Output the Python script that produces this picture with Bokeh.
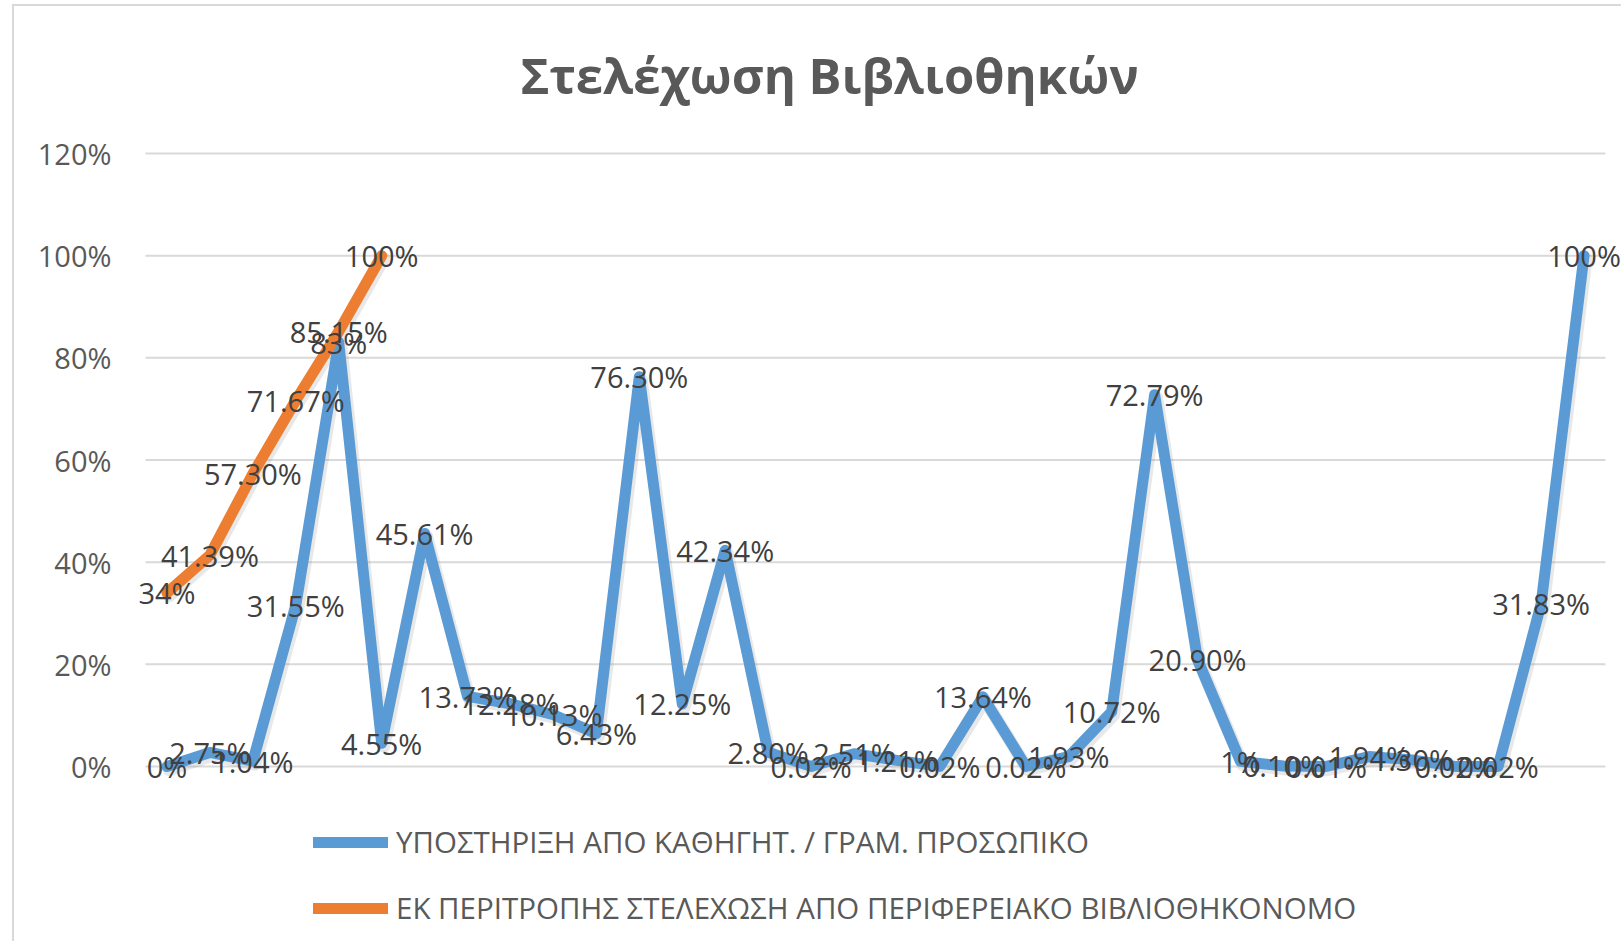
from bokeh.plotting import figure
from bokeh.models import (Range1d, ColumnDataSource, Legend, LegendItem, FixedTicker,
                          CustomJSTickFormatter, LabelSet, Label)
from bokeh.core.properties import value
from bokeh.embed import file_html
from bokeh.resources import INLINE

# ---- data ----
support_values = [0, 2.75, 1.04, 31.55, 83, 4.55, 45.61, 13.73, 12.28, 10.13, 6.43,
                  76.30, 12.25, 42.34, 2.80, 0.02, 2.51, 1.21, 0.02, 13.64, 0.02,
                  1.93, 10.72, 72.79, 20.90, 1, 0.10, 0.01, 1.94, 1.30, 0.02, 0.02,
                  31.83, 100]
rotation_values = [34, 41.39, 57.30, 71.67, 85.15, 100]
categories = list(range(1, len(support_values) + 1))
y_ticks = [0, 20, 40, 60, 80, 100, 120]

series_names = ["ΥΠΟΣΤΗΡΙΞΗ ΑΠΟ ΚΑΘΗΓΗΤ. / ΓΡΑΜ. ΠΡΟΣΩΠΙΚΟ",
                "ΕΚ ΠΕΡΙΤΡΟΠΗΣ ΣΤΕΛΕΧΩΣΗ ΑΠΟ ΠΕΡΙΦΕΡΕΙΑΚΟ ΒΙΒΛΙΟΘΗΚΟΝΟΜΟ"]
title_text = "Στελέχωση Βιβλιοθηκών"


def fmt(v):
    return f"{v:.0f}%" if float(v) == round(v) else f"{v:.2f}%"


FONT = "Open Sans"
TEXT_COLOR = "#404040"
BLUE, ORANGE = "#5B9BD5", "#ED7D31"

# the chart-area border sits at page x=12, y=4 (2px wide); canvas starts right after it
OX, OY = 14, 6
W, H = 1623 - OX, 951 - OY - 8
FRAME_L, FRAME_T = 125 - OX, 0

# category band: x 145..1605 px ; value band: 0% at 766 px, 120% at 153 px (page coords)
BAND_L, BAND_R, ZERO_Y, TOP_Y = 145 - OX, 1605 - OX, 766 - OY, 153 - OY
PX_PER_CAT = (BAND_R - BAND_L) / len(categories)
PX_PER_UNIT = (ZERO_Y - TOP_Y) / 120.0
x_start = categories[0] - 0.5 - (BAND_L - FRAME_L) / PX_PER_CAT
x_end = categories[-1] + 0.5 + (W - BAND_R) / PX_PER_CAT
y_start = -(H - ZERO_Y) / PX_PER_UNIT
y_end = 120 + (TOP_Y - FRAME_T) / PX_PER_UNIT

p = figure(width=W, height=H, output_backend="svg", toolbar_location=None,
           x_range=Range1d(x_start, x_end), y_range=Range1d(y_start, y_end),
           min_border_left=FRAME_L, min_border_right=0, min_border_top=FRAME_T,
           min_border_bottom=0)
p.styles = {"margin-left": "12px", "margin-top": "4px",
            "border-left": "2px solid #d9d9d9", "border-top": "2px solid #d9d9d9"}

p.outline_line_color = None
p.xaxis.visible = False
p.xgrid.grid_line_color = None
p.ygrid.grid_line_color = None

# chart title (centred at page x≈829, y≈74)
p.add_layout(Label(x=x_start + (829 - OX - FRAME_L) / PX_PER_CAT,
                   y=y_start + (H - (74 - OY)) / PX_PER_UNIT,
                   text=title_text, text_font=FONT, text_font_style="bold",
                   text_font_size="49px", text_color="#595959",
                   text_align="center", text_baseline="middle"))

# horizontal gridlines across the category band
p.segment(x0=[categories[0] - 0.5] * len(y_ticks), x1=[categories[-1] + 0.5] * len(y_ticks),
          y0=y_ticks, y1=y_ticks, line_color="#d9d9d9", line_width=2)

p.yaxis.ticker = FixedTicker(ticks=y_ticks)
p.yaxis.formatter = CustomJSTickFormatter(code="return tick.toFixed(0) + '%';")
p.yaxis.axis_line_color = None
p.yaxis.major_tick_line_color = None
p.yaxis.minor_tick_line_color = None
p.yaxis.major_label_text_font = FONT
p.yaxis.major_label_text_font_size = "29px"
p.yaxis.major_label_text_color = "#595959"
p.yaxis.major_label_standoff = 8

src_a = ColumnDataSource(dict(x=categories, y=support_values,
                              lab=[fmt(v) for v in support_values]))
src_b = ColumnDataSource(dict(x=categories[:len(rotation_values)], y=rotation_values,
                              lab=[fmt(v) for v in rotation_values]))

# soft drop shadow (2px right, 3px down) like the Excel line style
sdx, sdy = 2 / PX_PER_CAT, -3 / PX_PER_UNIT
for s in (src_a, src_b):
    xs = [v + sdx for v in s.data["x"]]
    ys = [v + sdy for v in s.data["y"]]
    p.line(xs, ys, line_color="#808080", line_alpha=0.18, line_width=13,
           line_join="round", line_cap="round")

ra = p.line("x", "y", source=src_a, line_color=BLUE, line_width=11,
            line_join="round", line_cap="round")
rb = p.line("x", "y", source=src_b, line_color=ORANGE, line_width=11,
            line_join="round", line_cap="round")

for s in (src_a, src_b):
    p.add_layout(LabelSet(x="x", y="y", text="lab", source=s, text_font=value(FONT),
                          text_font_size="29px", text_color=TEXT_COLOR,
                          text_align="center", text_baseline="middle"))

legend = Legend(items=[LegendItem(label=series_names[0], renderers=[ra]),
                       LegendItem(label=series_names[1], renderers=[rb])],
                location=(313 - 125, (H + OY) - 928), orientation="vertical",
                glyph_width=75, glyph_height=40, label_height=40,
                label_standoff=8, spacing=25, padding=0, margin=0,
                border_line_color=None, background_fill_alpha=0,
                label_text_font=FONT, label_text_font_size="29.5px",
                label_text_color="#595959")
p.add_layout(legend, "center")

open("out.html", "w").write(file_html(p, INLINE))
